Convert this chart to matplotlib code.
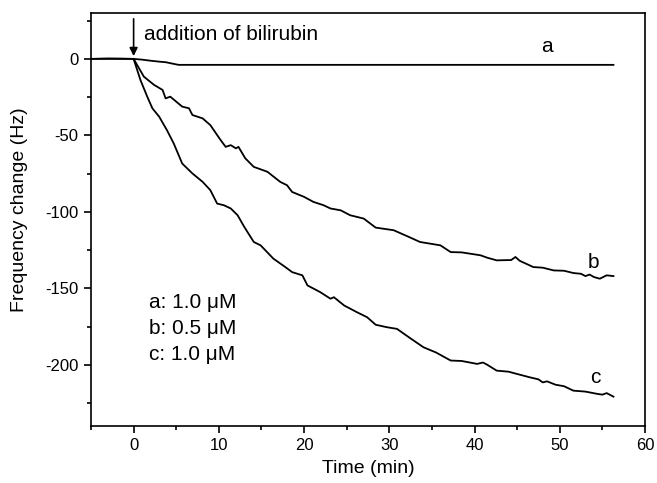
import matplotlib
matplotlib.use("Agg")
import matplotlib.pyplot as plt

plt.rcParams['font.family'] = ['Liberation Sans', 'DejaVu Sans']
plt.rcParams['axes.unicode_minus'] = False

# Curve a
t_a = [-5, -3, -1.5, 0, 1, 2, 3, 3.8, 4.3, 5.0, 5.3, 20, 40, 56.3]
f_a = [0, 0.3, 0.2, 0, -0.5, -1.2, -1.8, -2.2, -2.8, -3.6, -3.9, -3.9, -3.9, -3.9]

# Curve b
t_b = [-5, 0, 1.2, 2.4, 3.4, 3.75, 4.3, 5.7, 6.5, 6.9, 8.1, 9.0, 10.2, 10.8, 11.4, 12.0, 12.3,
       13.1, 14.1, 15.7, 17.2, 18.0, 18.6, 20.0, 21.1, 22.3, 23.1, 24.3, 25.4, 27.0, 28.4,
       30.5, 32.3, 33.6, 36.0, 37.2, 38.5, 40.7, 41.5, 42.6, 44.3, 44.8, 45.3, 46.9, 48.0,
       49.3, 50.5, 51.6, 52.5, 53.0, 53.5, 54.0, 54.7, 55.5, 56.3]
f_b = [0, 0, -11.6, -17, -20.3, -25.8, -24.7, -31.2, -32.3, -36.7, -38.9, -43.3, -53, -57.5, -56.4, -58.5, -57.5,
       -65, -70.6, -73.8, -80.4, -82.6, -87, -90.2, -93.5, -95.7, -97.8, -99, -102.2, -104.4, -110.3,
       -112, -116.4, -119.7, -121.9, -126.3, -126.5, -128.4, -130, -131.7, -131.5, -129.5, -132, -136.1, -136.5,
       -138.3, -138.5, -140, -140.5, -142, -141, -142.6, -143.7, -141.5, -142]

# Curve c
t_c = [0, 0.8, 1.6, 2.2, 3.0, 3.9, 4.7, 5.7, 6.9, 8.1, 9.0, 9.8, 10.6, 11.4, 12.2, 13.0, 14.1,
       14.9, 16.4, 17.8, 18.6, 19.8, 20.4, 21.9, 23.1, 23.5, 24.7, 26.2, 27.4, 28.4, 29.7,
       30.9, 32.3, 34.0, 35.5, 37.2, 38.5, 40.3, 41.0, 41.5, 42.6, 44.0, 45.0, 46.5, 47.5,
       48.0, 48.5, 49.5, 50.5, 51.6, 53.0, 54.4, 55.0, 55.5, 56.3]
f_c = [0, -13.8, -24.7, -32.3, -37.8, -46.5, -55.2, -68.4, -74.9, -80.4, -85.8, -94.6, -95.7, -97.8, -102.2, -110, -119.7,
       -121.9, -130.6, -136.1, -139.4, -141.5, -148.1, -152.5, -156.8, -155.8, -161.2, -165.6, -168.9, -173.8, -175.4,
       -176.5, -182, -188.5, -192, -197.2, -197.5, -199.4, -198.5, -200, -203.8, -204.5, -206, -208.2, -209.5,
       -211.5, -210.8, -213, -214, -216.9, -217.5, -219, -219.5, -218.5, -220.8]

legend_lines = ["a: 1.0 \u03bcM", "b: 0.5 \u03bcM", "c: 1.0 \u03bcM"]

fig = plt.figure(figsize=(6.57, 4.83), dpi=100)
ax = fig.add_axes([91/657, 1 - 426/483, (645 - 91)/657, (426 - 13)/483])

lw = 1.3
ax.plot(t_a, f_a, color='black', lw=lw)
ax.plot(t_b, f_b, color='black', lw=lw)
ax.plot(t_c, f_c, color='black', lw=lw)

ax.set_xlim(-5, 60)
ax.set_ylim(-240, 30)
ax.set_xticks([0, 10, 20, 30, 40, 50, 60])
ax.set_xticks(range(-5, 60, 10), minor=True)
ax.set_yticks([0, -50, -100, -150, -200])
ax.set_yticks([25, -25, -75, -125, -175, -225], minor=True)
ax.tick_params(axis='both', which='major', direction='out', length=5, width=1.2, labelsize=12, pad=4)
ax.tick_params(axis='both', which='minor', direction='out', length=3, width=1.2)
for s in ax.spines.values():
    s.set_linewidth(1.2)

ax.set_xlabel("Time (min)", fontsize=14, labelpad=5)
ax.set_ylabel("Frequency change (Hz)", fontsize=14)
ax.yaxis.set_label_coords(-0.114, (426 - 210) / 413)

ax.text(48.5, 8, "a", fontsize=15, ha='center', va='center')
ax.text(54.0, -133, "b", fontsize=15, ha='center', va='center')
ax.text(54.2, -208, "c", fontsize=15, ha='center', va='center')

ax.annotate("", xy=(0, 0), xytext=(0, 28),
            arrowprops=dict(arrowstyle='-|>', color='black', lw=1.2, mutation_scale=12))
ax.text(1.2, 16, "addition of bilirubin", fontsize=15, ha='left', va='center')

for i, s in enumerate(legend_lines):
    ax.text(1.8, -159 - 17 * i, s, fontsize=15, ha='left', va='center')

fig.savefig("out.png", dpi=100)
